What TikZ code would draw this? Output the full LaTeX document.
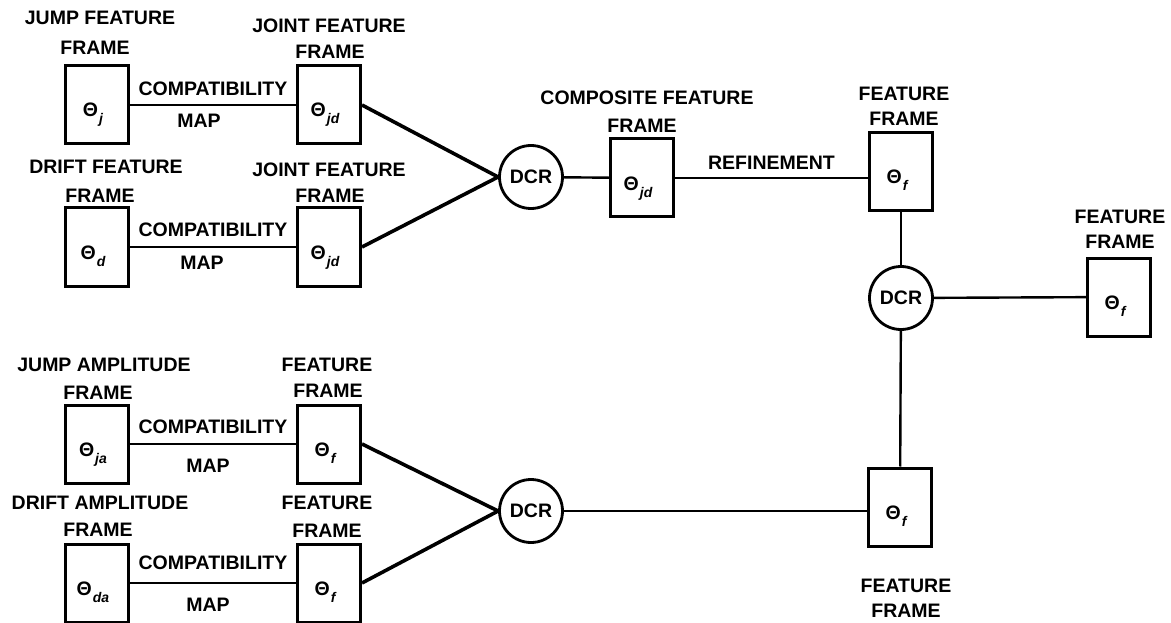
\documentclass[tikz,border=0pt]{standalone}
\usepackage{fontspec}
\setmainfont{Liberation Sans}
\usetikzlibrary{calc}

\newcommand{\thet}[1]{Θ\kern1pt\raisebox{-7pt}{\fontsize{14}{14}\selectfont\itshape #1}\kern8pt}

\begin{document}
\begin{tikzpicture}[x=1pt, y=-1pt,
    font=\bfseries\fontsize{19.5}{22}\selectfont,
    fbox/.style={draw, line width=3pt, minimum width=63pt, minimum height=78pt,
                 inner sep=0pt, text height=24pt, text depth=0pt},
    dcr/.style={draw, circle, line width=2.8pt, minimum size=63pt, inner sep=0pt},
    lbl/.style={inner sep=0pt},
    link/.style={line width=2.4pt},
    heavy/.style={line width=3.6pt}]

  \useasboundingbox (0,0) rectangle (1171,623);

	% left column: source frames
	\node[fbox] (bj)  at (97,105) {\thet{j}};
	\node[fbox] (bd)  at (97,247) {\thet{d}};
	\node[fbox] (bja) at (97,444) {\thet{ja}};
	\node[fbox] (bda) at (97,583) {\thet{da}};
	\node[lbl] (tja) at (100,18)  {JUMP FEATURE};
	\node[lbl] (tjb) at (95,48)   {FRAME};
	\node[lbl] (tda) at (106,167) {DRIFT FEATURE};
	\node[lbl] (tdb) at (100,196) {FRAME};
	\node[lbl] (taa) at (104,365) {JUMP AMPLITUDE};
	\node[lbl] (tab) at (98,393)  {FRAME};
	\node[lbl] (tca) at (100,503) {DRIFT AMPLITUDE};
	\node[lbl] (tcb) at (98,530)  {FRAME};

	% second column
	\node[fbox] (bjd1) at (329,105) {\thet{jd}};
	\node[fbox] (bjd2) at (329,247) {\thet{jd}};
	\node[fbox] (bf1)  at (329,444) {\thet{f}};
	\node[fbox] (bf2)  at (329,583) {\thet{f}};
	\node[lbl] (tka) at (329,26)  {JOINT FEATURE};
	\node[lbl] (tkb) at (330,52)  {FRAME};
	\node[lbl] (tla) at (329,170) {JOINT FEATURE};
	\node[lbl] (tlb) at (330,196) {FRAME};
	\node[lbl] (tma) at (327,365) {FEATURE};
	\node[lbl] (tmb) at (328,391) {FRAME};
	\node[lbl] (tna) at (327,503) {FEATURE};
	\node[lbl] (tnb) at (327,531) {FRAME};

	\draw[link] (bj) -- node[lbl, above=8pt] (cm1) {COMPATIBILITY}
	                    node[lbl, below=8pt, xshift=-14pt] (mp1) {MAP} (bjd1);
	\draw[link] (bd) -- node[lbl, above=9pt] (cm2) {COMPATIBILITY}
	                    node[lbl, below=8pt, xshift=-11pt] (mp2) {MAP} (bjd2);
	\draw[link] (bja) -- node[lbl, above=9pt] (cm3) {COMPATIBILITY}
	                     node[lbl, below=14pt, xshift=-5pt] (mp3) {MAP} (bf1);
	\draw[link] (bda) -- node[lbl, above=12pt] (cm4) {COMPATIBILITY}
	                     node[lbl, below=14pt, xshift=-5pt] (mp4) {MAP} (bf2);

	% combination
	\node[dcr] (dcr1) at (531,177) {DCR};
	\node[dcr] (dcr3) at (531,511) {DCR};
	\draw[heavy] (bjd1.east) -- (dcr1.west);
	\draw[heavy] (bjd2.east) -- (dcr1.west);
	\draw[heavy] (bf1.east) -- (dcr3.west);
	\draw[heavy] (bf2.east) -- (dcr3.west);

	\node[fbox] (bcomp) at (642,178) {\thet{jd}};
	\node[lbl] (tpa) at (647,98)  {COMPOSITE FEATURE};
	\node[lbl] (tpb) at (642,126) {FRAME};
	\draw[link] (dcr1) -- (bcomp);

	% right part
	\node[fbox] (bftop)   at (901,172) {\thet{f}};
	\node[dcr]  (dcr2)    at (901,298) {DCR};
	\node[fbox] (bfright) at (1119,297) {\thet{f}};
	\node[fbox] (bfbot)   at (900,507) {\thet{f}};
	\node[lbl] (tqa) at (904,94)   {FEATURE};
	\node[lbl] (tqb) at (904,119)  {FRAME};
	\node[lbl] (tra) at (1120,217) {FEATURE};
	\node[lbl] (trb) at (1120,242) {FRAME};
	\node[lbl] (tsa) at (906,586)  {FEATURE};
	\node[lbl] (tsb) at (906,611)  {FRAME};

	\draw[line width=2pt] (bcomp.east) -- node[lbl, above=7pt] (ref) {REFINEMENT} (bcomp.east -| bftop.west);
	\draw[link] (bftop) -- (dcr2);
	\draw[link] (dcr2) -- (bfright);
	\draw[link] (dcr2) -- (bfbot);
	\draw[link] (dcr3.east) -- (dcr3.east -| bfbot.west);

\end{tikzpicture}
\end{document}
